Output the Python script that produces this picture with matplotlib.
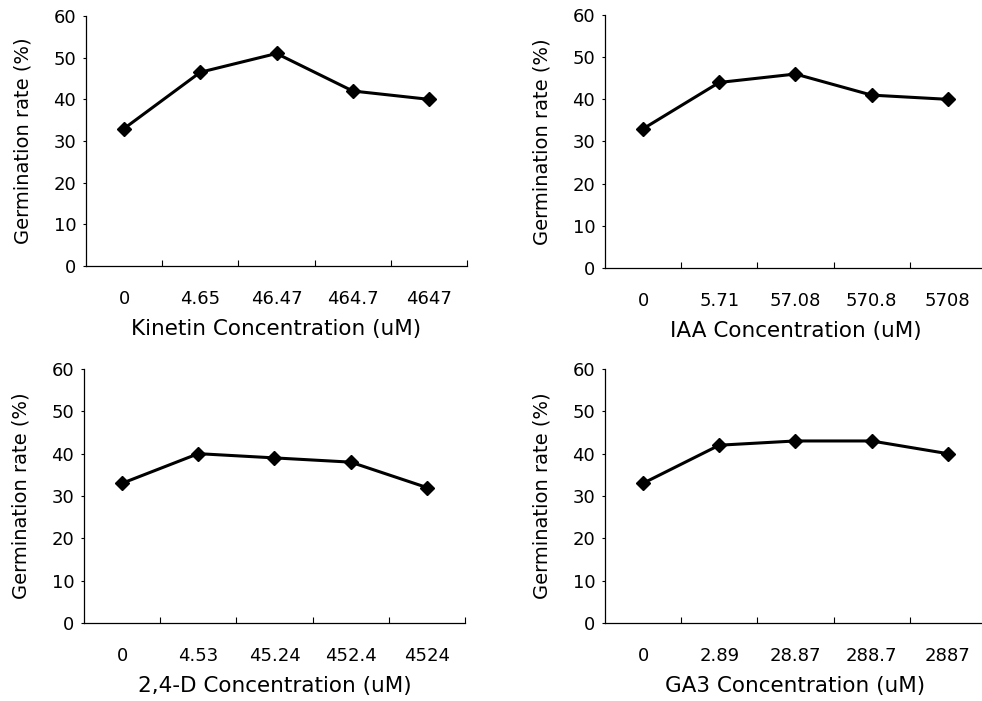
import matplotlib.pyplot as plt
import numpy as np

plt.rcParams['font.family'] = ['DejaVu Sans']

# concentrations (uM) shown as category labels
kinetin_conc = ['0', '4.65', '46.47', '464.7', '4647']
iaa_conc = ['0', '5.71', '57.08', '570.8', '5708']
d24_conc = ['0', '4.53', '45.24', '452.4', '4524']
ga3_conc = ['0', '2.89', '28.87', '288.7', '2887']

# germination rate (%)
kinetin_rate = [33, 46.5, 51, 42, 40]
iaa_rate = [33, 44, 46, 41, 40]
d24_rate = [33, 40, 39, 38, 32]
ga3_rate = [33, 42, 43, 43, 40]

panels = [
    (kinetin_conc, kinetin_rate, 'Kinetin Concentration (uM)', [0.0876, 0.6205, 0.388, 0.3567]),
    (iaa_conc, iaa_rate, 'IAA Concentration (uM)', [0.616, 0.6177, 0.388, 0.3609]),
    (d24_conc, d24_rate, '2,4-D Concentration (uM)', [0.0855, 0.1113, 0.388, 0.3623]),
    (ga3_conc, ga3_rate, 'GA3 Concentration (uM)', [0.616, 0.1113, 0.388, 0.3623]),
]

fig = plt.figure(figsize=(9.82, 7.01), dpi=100)

for conc, rate, xlabel, rect in panels:
    ax = fig.add_axes(rect)
    x = np.arange(len(conc))
    ax.plot(x, rate, color='black', lw=2.2, marker='D', markersize=7.5,
            markerfacecolor='black', markeredgecolor='black', clip_on=False)

    ax.set_xlim(-0.5, len(conc) - 0.5)
    ax.set_ylim(0, 60)
    ax.set_yticks(range(0, 61, 10))
    ax.tick_params(axis='y', direction='out', length=2, width=0.8, labelsize=13, pad=5)

    # ticks sit between the categories, labels sit under the points
    ax.set_xticks(x + 0.5)
    ax.set_xticklabels([''] * len(conc))
    ax.tick_params(axis='x', direction='in', length=4, width=0.8)
    ax.set_xticks(x, minor=True)
    ax.set_xticklabels(conc, minor=True)
    ax.tick_params(axis='x', which='minor', length=0, labelsize=13, pad=17)

    ax.set_xlabel(xlabel, fontsize=15.5, labelpad=8)
    ax.set_ylabel('Germination rate (%)', fontsize=14, labelpad=15)

    for side in ['top', 'right']:
        ax.spines[side].set_visible(False)
    for side in ['left', 'bottom']:
        ax.spines[side].set_linewidth(0.9)

fig.savefig('out.png', dpi=100)
